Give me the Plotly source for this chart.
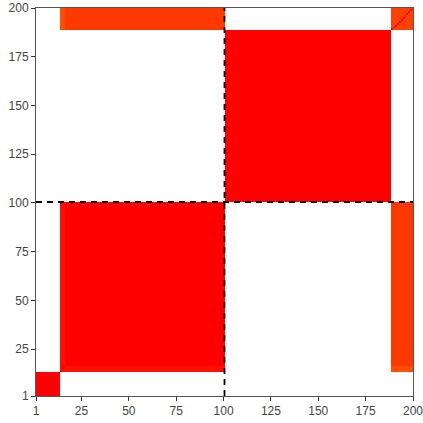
import numpy as np
import plotly.graph_objects as go

# cluster blocks (start, end) over the 200 samples
block_start = [1, 14, 17, 101, 189]
block_end = [13, 16, 100, 188, 200]

# mean co-clustering value between blocks (symmetric)
block_values = [
    [1.00, 0.00, 0.00, 0.00, 0.00],
    [0.00, 0.90, 0.90, 0.00, 0.50],
    [0.00, 0.90, 1.00, 0.00, 0.64],
    [0.00, 0.00, 0.00, 1.00, 0.00],
    [0.00, 0.50, 0.64, 0.00, 0.58],
]
boundary = [100.5]
tick_vals = [1, 25, 50, 75, 100, 125, 150, 175, 200]

n = block_end[-1]
idx = np.arange(1, n + 1)
lab = np.zeros(n, dtype=int)
for k, (s, e) in enumerate(zip(block_start, block_end)):
    lab[s - 1:e] = k
bv = np.array(block_values)
z = bv[lab][:, lab]
np.fill_diagonal(z, 1.0)

fig = go.Figure(go.Heatmap(
    x=idx, y=idx, z=z, zmin=0, zmax=1, showscale=False, hoverinfo="skip",
    colorscale=[[0, "#ffffff"], [0.01, "#ffffff"], [0.02, "#ff9900"], [1, "#ff0000"]],
))
for b in boundary:
    fig.add_shape(type="line", x0=b, x1=b, y0=1, y1=200,
                  line=dict(color="black", width=1.8, dash="6px,5px"))
    fig.add_shape(type="line", x0=1, x1=200, y0=b, y1=b,
                  line=dict(color="black", width=1.8, dash="6px,5px"))

ax = dict(range=[1, 200], tickvals=tick_vals, ticks="outside", ticklen=4,
          tickcolor="#333333", showline=True, linecolor="#555555", linewidth=1,
          mirror=True, showgrid=False, zeroline=False, automargin=False,
          ticklabeloverflow="allow",
          tickfont=dict(family="Liberation Sans, Arial", size=12, color="#444444"))
fig.update_xaxes(**ax)
fig.update_yaxes(**ax)
fig.update_layout(width=423, height=423, paper_bgcolor="white", plot_bgcolor="white",
                  margin=dict(l=36, r=10, t=8, b=27))
# drop the browser's default body margin so the figure sits at the page corner
fig.write_html("out.html", config={"displayModeBar": False},
               post_script="document.body.style.margin='0';")
